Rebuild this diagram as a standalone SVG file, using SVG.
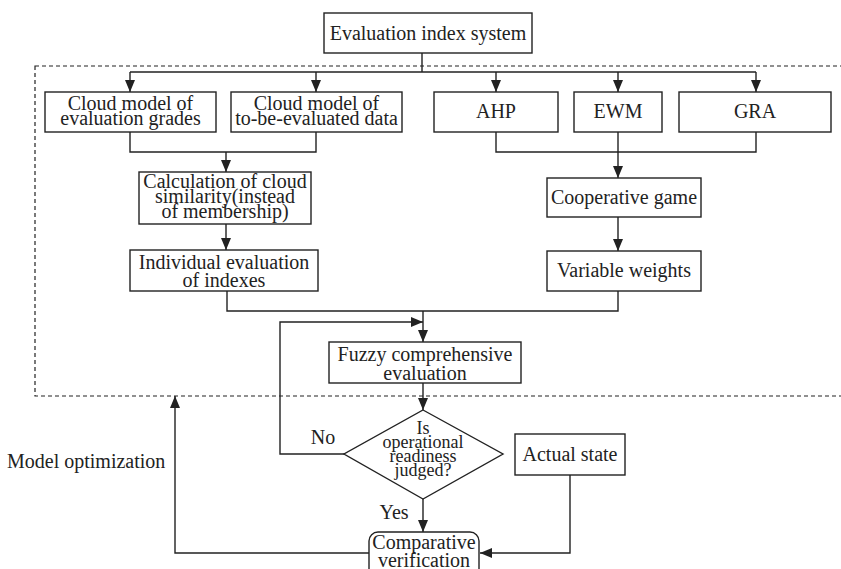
<svg xmlns="http://www.w3.org/2000/svg" width="841" height="569" viewBox="0 0 841 569">
<defs>
<marker id="ah" markerUnits="userSpaceOnUse" markerWidth="12" markerHeight="10" refX="12" refY="5" orient="auto">
<path d="M0,0 L12,5 L0,10 z" fill="#222"/>
</marker>
<style>
.b{fill:#fff;stroke:#222;stroke-width:1.4}
.t{font-family:"Liberation Serif","Times New Roman",serif;font-size:20px;fill:#222;text-anchor:middle}
.s{font-size:18px}
.l{font-family:"Liberation Serif","Times New Roman",serif;font-size:20px;fill:#222}
.c{fill:none;stroke:#222;stroke-width:1.4}
.a{fill:none;stroke:#222;stroke-width:1.4;marker-end:url(#ah)}
.d{fill:none;stroke:#222;stroke-width:1.2;stroke-dasharray:4 3}
</style>
</defs>
<rect class="d" x="35" y="66" width="820" height="330"/>
<g id="connectors">
<path class="c" d="M422,53 V72 M130,72 H756"/>
<path class="a" d="M130,72 V92"/>
<path class="a" d="M316,72 V92"/>
<path class="a" d="M496,72 V92"/>
<path class="a" d="M618,72 V92"/>
<path class="a" d="M756,72 V92"/>
<path class="c" d="M130,132 V152 H316 V132"/>
<path class="a" d="M226,152 V172"/>
<path class="c" d="M496,132 V152 H756 V132"/>
<path class="a" d="M618,132 V178"/>
<path class="a" d="M226,224 V250"/>
<path class="a" d="M618,217 V251"/>
<path class="c" d="M227,291 V311 H618 V291"/>
<path class="a" d="M423,311 V342"/>
<path class="a" d="M423,383 V410"/>
<path class="a" d="M344,454 H280 V322 H423"/>
<path class="a" d="M423,499 V532"/>
<path class="a" d="M570,475 V553 H480"/>
<path class="a" d="M369,553 H175 V396"/>
</g>
<g id="n-index"><rect class="b" x="324" y="13" width="208" height="40"/><text class="t" x="428" y="40">Evaluation index system</text></g>
<g id="n-cloud-grades"><rect class="b" x="45" y="92" width="171" height="40"/><text class="t" x="130.5" y="110">Cloud model of</text><text class="t" x="130.5" y="125">evaluation grades</text></g>
<g id="n-cloud-data"><rect class="b" x="231" y="92" width="171" height="40"/><text class="t" x="316.5" y="110">Cloud model of</text><text class="t" x="316.5" y="125">to-be-evaluated data</text></g>
<g id="n-ahp"><rect class="b" x="434" y="92" width="124" height="40"/><text class="t" x="496" y="118">AHP</text></g>
<g id="n-ewm"><rect class="b" x="574" y="92" width="88" height="40"/><text class="t" x="618" y="118">EWM</text></g>
<g id="n-gra"><rect class="b" x="679" y="92" width="152" height="40"/><text class="t" x="755" y="118">GRA</text></g>
<g id="n-calc"><rect class="b" x="139" y="172" width="172" height="52"/><text class="t" x="225" y="188">Calculation of cloud</text><text class="t" x="225" y="203">similarity(instead</text><text class="t" x="225" y="218">of membership)</text></g>
<g id="n-coop"><rect class="b" x="547" y="178" width="154" height="39"/><text class="t" x="624" y="204">Cooperative game</text></g>
<g id="n-indiv"><rect class="b" x="130" y="250" width="188" height="41"/><text class="t" x="224" y="269">Individual evaluation</text><text class="t" x="224" y="287">of indexes</text></g>
<g id="n-var"><rect class="b" x="547" y="251" width="154" height="40"/><text class="t" x="624" y="277">Variable weights</text></g>
<g id="n-fuzzy"><rect class="b" x="329" y="342" width="192" height="41"/><text class="t" x="425" y="361">Fuzzy comprehensive</text><text class="t" x="425" y="380">evaluation</text></g>
<g id="n-judge"><path class="b" d="M423,410 L503,454 L423,499 L344,454 Z"/><text class="t s" x="423" y="434">Is</text><text class="t s" x="423" y="448">operational</text><text class="t s" x="423" y="462">readiness</text><text class="t s" x="423" y="476">judged?</text></g>
<g id="n-actual"><rect class="b" x="515" y="434" width="110" height="41"/><text class="t" x="570" y="461">Actual state</text></g>
<g id="n-compare"><rect class="b" x="369" y="532" width="110" height="50" rx="9"/><text class="t" x="424" y="549">Comparative</text><text class="t" x="424" y="567">verification</text></g>
<g id="labels">
<text class="t" x="323" y="444">No</text>
<text class="t" x="394" y="519">Yes</text>
<text class="l" x="7" y="468">Model optimization</text>
</g>
</svg>
